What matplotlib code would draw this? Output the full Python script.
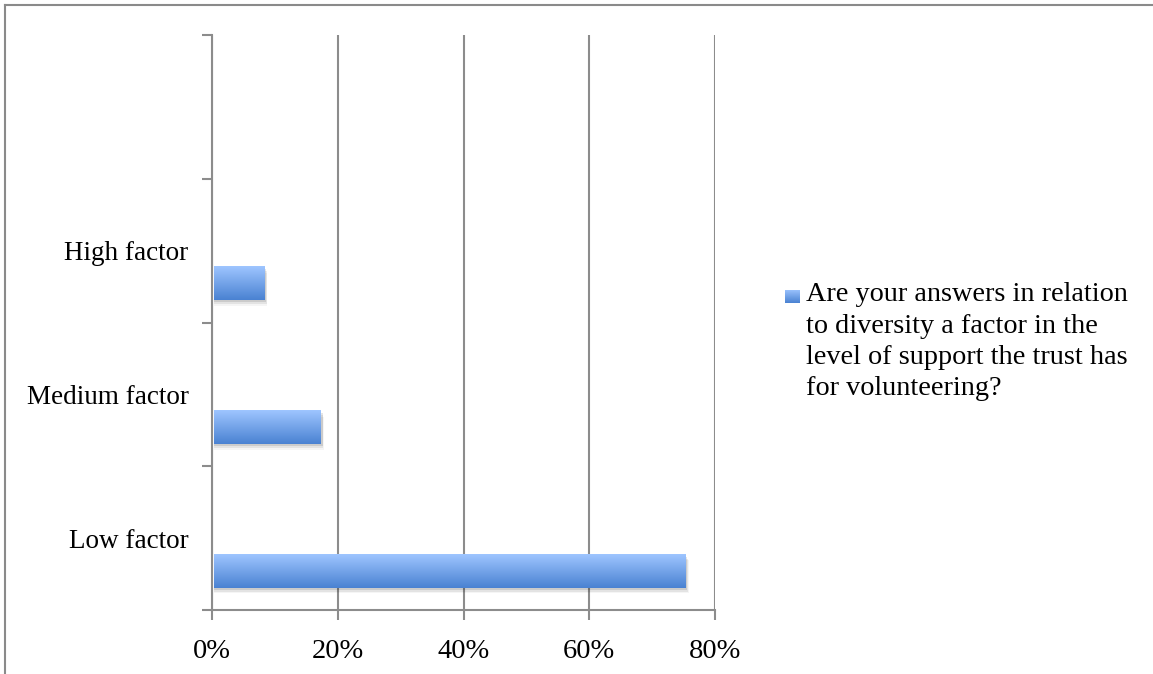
import numpy as np
import matplotlib.pyplot as plt
from matplotlib.patches import Rectangle
from matplotlib.lines import Line2D
from matplotlib.colors import LinearSegmentedColormap

categories = ["Low factor", "Medium factor", "High factor", ""]
values = [75, 17, 8, None]
series_name = ("Are your answers in relation\nto diversity a factor in the\n"
               "level of support the trust has\nfor volunteering?")
xticks = [0, 20, 40, 60, 80]

plt.rcParams["font.family"] = ["Liberation Serif", "DejaVu Serif"]

fig = plt.figure(figsize=(11.53, 6.74), dpi=100)
ax = fig.add_axes([0.1839, 0.095, 0.4362, 0.853])

# figure frame (top and left only)
fig.add_artist(Line2D([0.0043, 1.0], [0.9926, 0.9926], color="#8a8a8a", lw=1.5))
fig.add_artist(Line2D([0.0043, 0.0043], [0.0, 0.9926], color="#8a8a8a", lw=1.5))

slots = np.arange(len(categories))
bar_offset = -0.23
bar_h = 0.23
vals = [v if v is not None else 0 for v in values]
bars = ax.barh(slots + bar_offset, vals, height=bar_h, left=0.25, color="none", zorder=3)

grad = np.linspace(0, 1, 64).reshape(-1, 1)
cmap = LinearSegmentedColormap.from_list("bl", ["#4a82d2", "#9ec5ff"])
for b, v in zip(bars, values):
    if not v:
        continue
    x0, y0, w, h = b.get_x(), b.get_y(), b.get_width(), b.get_height()
    # soft shadow
    for k, a in enumerate([0.10, 0.07, 0.04]):
        ax.add_patch(Rectangle((x0 + 0.1, y0 - 0.015 - 0.012 * k), w + 0.25 + 0.1 * k, h,
                               facecolor="black", alpha=a, lw=0, zorder=2))
    ax.imshow(grad, cmap=cmap, aspect="auto", extent=(x0, x0 + w, y0, y0 + h),
              origin="lower", zorder=3, interpolation="bilinear")

ax.set_xlim(0, 80)
ax.set_ylim(-0.5, len(categories) - 0.5)

ax.set_xticks(xticks)
ax.set_xticklabels([f"{t}%" for t in xticks], fontsize=20.5)
ax.xaxis.grid(True, color="#8c8c8c", lw=1.5, zorder=0)
ax.tick_params(axis="x", length=7, width=1.5, color="#8c8c8c", pad=14)

ax.set_yticks(slots)
ax.set_yticklabels(categories, fontsize=19.5)
ax.set_yticks(np.arange(-0.5, len(categories)), minor=True)
ax.tick_params(axis="y", which="major", length=0, pad=17)
ax.tick_params(axis="y", which="minor", length=7, width=1.5, color="#8c8c8c")

for s in ["top", "right"]:
    ax.spines[s].set_visible(False)
for s in ["left", "bottom"]:
    ax.spines[s].set_color("#8c8c8c")
    ax.spines[s].set_linewidth(1.5)

# legend: gradient key square + wrapped series name
key = fig.add_axes([0.6808, 0.5504, 0.013, 0.0193])
key.imshow(grad, cmap=cmap, aspect="auto", origin="lower", interpolation="bilinear")
key.set_axis_off()
fig.text(0.699, 0.581, series_name, ha="left", va="top", fontsize=20.3, linespacing=1.33)

fig.savefig("out.png", dpi=100)
